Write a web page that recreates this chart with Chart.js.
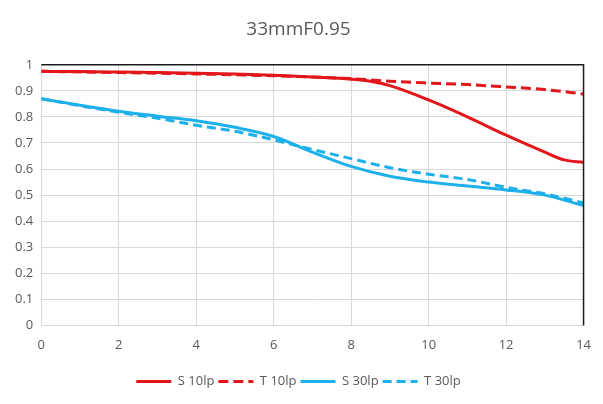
<!DOCTYPE html>
<html>
<head>
<meta charset="utf-8">
<script src="https://cdn.jsdelivr.net/npm/chart.js@4/dist/chart.umd.min.js"></script>
<style>
html,body{margin:0;padding:0;background:#fff;}
#wrap{width:603px;height:404px;position:relative;}
</style>
</head>
<body>
<div id="wrap"><canvas id="c" width="603" height="404"></canvas></div>
<script>
const titleText = '33mmF0.95';
const xTicks = [0, 2, 4, 6, 8, 10, 12, 14];
const yTicks = [0, 0.1, 0.2, 0.3, 0.4, 0.5, 0.6, 0.7, 0.8, 0.9, 1];

const s10X = [0, 1, 2, 3, 4, 5, 6, 7, 8, 8.5, 9, 10, 11, 12, 13, 13.5, 14];
const s10Y = [0.975, 0.974, 0.972, 0.970, 0.968, 0.965, 0.960, 0.953, 0.945, 0.937, 0.920, 0.865, 0.800, 0.730, 0.665, 0.635, 0.625];

const t10X = [0, 2, 4, 6, 7, 8, 9, 10, 11, 12, 13, 14];
const t10Y = [0.975, 0.970, 0.965, 0.958, 0.953, 0.947, 0.937, 0.930, 0.924, 0.915, 0.905, 0.888];

const s30X = [0, 1, 2, 3, 4, 5, 6, 7, 8, 9, 10, 11, 12, 13, 14];
const s30Y = [0.870, 0.845, 0.822, 0.803, 0.785, 0.760, 0.725, 0.665, 0.610, 0.572, 0.550, 0.535, 0.520, 0.500, 0.460];

const t30X = [0, 1, 2, 3, 4, 5, 6, 7, 8, 9, 10, 11, 12, 13, 14];
const t30Y = [0.870, 0.843, 0.818, 0.795, 0.768, 0.745, 0.712, 0.675, 0.640, 0.605, 0.580, 0.560, 0.530, 0.505, 0.470];

const seriesNames = ['S 10lp', 'T 10lp', 'S 30lp', 'T 30lp'];
const RED = '#e3161b';
const BLUE = '#1db0ea';

function pts(xs, ys){ return xs.map((x,i)=>({x:x, y:ys[i]})); }

const frame = {
  id: 'frame',
  afterDatasetsDraw(chart){
    const a = chart.chartArea, ctx = chart.ctx;
    ctx.save();
    ctx.strokeStyle = '#1a1a1a';
    ctx.lineWidth = 1.5;
    ctx.beginPath();
    ctx.moveTo(a.left, a.top);
    ctx.lineTo(a.right, a.top);
    ctx.lineTo(a.right, a.bottom);
    ctx.stroke();
    ctx.restore();
  }
};

const common = {fill:false, pointRadius:0, borderWidth:3, cubicInterpolationMode:'monotone'};
const tickFont = {family: 'Open Sans', size: 13};

new Chart(document.getElementById('c'), {
  type: 'line',
  data: {
    datasets: [
      Object.assign({label: seriesNames[0], data: pts(s10X, s10Y), borderColor: RED, backgroundColor: RED}, common),
      Object.assign({label: seriesNames[1], data: pts(t10X, t10Y), borderColor: RED, backgroundColor: RED, borderDash:[10,5]}, common),
      Object.assign({label: seriesNames[2], data: pts(s30X, s30Y), borderColor: BLUE, backgroundColor: BLUE}, common),
      Object.assign({label: seriesNames[3], data: pts(t30X, t30Y), borderColor: BLUE, backgroundColor: BLUE, borderDash:[9,5]}, common)
    ]
  },
  options: {
    responsive: false,
    animation: false,
    devicePixelRatio: 1,
    layout: {padding: {left: 7, right: 13, top: 6, bottom: 6}},
    plugins: {
      title: {
        display: true, text: titleText, color: '#595959',
        font: {family: 'Open Sans', size: 19, weight: 'normal'},
        padding: {top: 12, bottom: 24}
      },
      legend: {
        position: 'bottom',
        labels: {
          color: '#595959',
          font: {family: 'Open Sans', size: 13},
          usePointStyle: true, pointStyle: 'line', pointStyleWidth: 35,
          boxWidth: 35, boxHeight: 12, padding: 4,
          generateLabels(chart){
            return chart.data.datasets.map((ds, i) => ({
              text: ds.label,
              fillStyle: ds.borderColor,
              strokeStyle: ds.borderColor,
              fontColor: '#595959',
              lineWidth: 3,
              lineDash: ds.borderDash || [],
              pointStyle: 'line',
              hidden: false,
              datasetIndex: i
            }));
          }
        }
      },
      tooltip: {enabled: false}
    },
    scales: {
      x: {
        type: 'linear', min: 0, max: 14,
        afterBuildTicks(s){ s.ticks = xTicks.map(v=>({value:v})); },
        afterFit(s){ s.height += 6; },
        ticks: {color: '#595959', font: tickFont, padding: 12},
        grid: {color: '#d9d9d9', drawTicks: false},
        border: {color: '#d9d9d9'}
      },
      y: {
        type: 'linear', min: 0, max: 1,
        afterBuildTicks(s){ s.ticks = yTicks.map(v=>({value:v})); },
        ticks: {color: '#595959', font: tickFont, padding: 8,
          callback: v => String(Number(v.toFixed(1)))},
        grid: {color: '#d9d9d9', drawTicks: false},
        border: {color: '#d9d9d9'}
      }
    }
  },
  plugins: [frame]
});
</script>
</body>
</html>
